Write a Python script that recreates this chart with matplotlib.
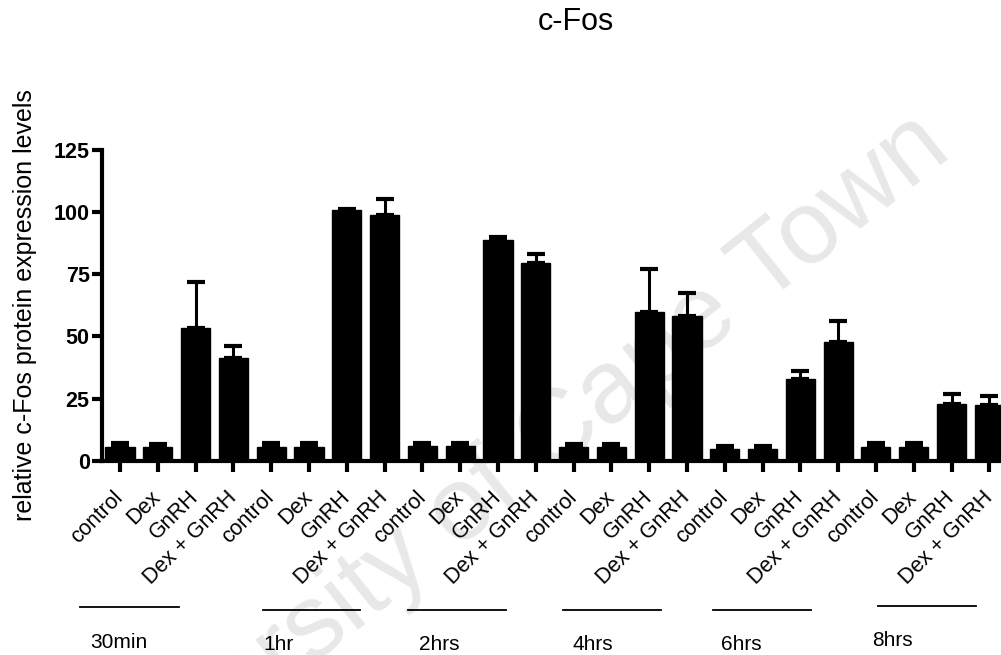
import matplotlib
matplotlib.use("Agg")
import matplotlib.pyplot as plt
import matplotlib.transforms as mtransforms
import numpy as np

plt.rcParams['font.family'] = ['Liberation Sans', 'DejaVu Sans']

treatments = ["control", "Dex", "GnRH", "Dex + GnRH"]
timepoints = ["30min", "1hr", "2hrs", "4hrs", "6hrs", "8hrs"]

mean_30min = [5.7, 5.5, 53.3, 41.5]
mean_1hr = [5.7, 5.7, 100.6, 98.8]
mean_2hrs = [6.0, 6.0, 88.5, 79.6]
mean_4hrs = [5.5, 5.5, 59.8, 58.2]
mean_6hrs = [4.9, 4.9, 32.9, 47.8]
mean_8hrs = [5.7, 5.7, 22.9, 22.4]

err_30min = [1.4, 1.2, 18.5, 4.8]
err_1hr = [1.6, 1.6, 0.4, 6.4]
err_2hrs = [1.3, 1.3, 1.2, 3.4]
err_4hrs = [1.2, 1.2, 17.2, 9.1]
err_6hrs = [1.2, 1.2, 3.4, 8.4]
err_8hrs = [1.4, 1.4, 4.1, 3.8]

# group separator lines (in bar-index units) and label positions
group_line_start = [-1.06, 3.77, 7.63, 11.72, 15.69, 20.05]
group_line_end = [1.55, 6.35, 10.21, 14.31, 18.27, 22.65]
group_label_x = [-0.79, 3.80, 7.92, 11.96, 15.90, 19.89]
group_line_y = [607, 610, 610, 610, 610, 606]
group_label_y = [642, 644, 645, 644, 645, 640]

means = mean_30min + mean_1hr + mean_2hrs + mean_4hrs + mean_6hrs + mean_8hrs
errs = err_30min + err_1hr + err_2hrs + err_4hrs + err_6hrs + err_8hrs
labels = treatments * len(timepoints)
x = np.arange(len(means))

W, H = 1001, 655
fig = plt.figure(figsize=(W / 100, H / 100), dpi=100)

ax_left = 101.5 / W
ax_bottom = (H - 461) / H
ax_top = (H - 149.5) / H
ax_right = 1012 / W
ax = fig.add_axes([ax_left, ax_bottom, ax_right - ax_left, ax_top - ax_bottom])
ax.patch.set_alpha(0)

ax.bar(x, means, width=0.77, color='black', edgecolor='black', zorder=3)
ax.errorbar(x, means, yerr=[np.zeros(len(errs)), errs], fmt='none',
            ecolor='black', elinewidth=2.2, capsize=6.5, capthick=3, zorder=2)

ax.set_xlim(-0.49, 23.6)
ax.set_ylim(0, 125)
ax.set_yticks([0, 25, 50, 75, 100, 125])
ax.set_xticks(x)
ax.set_xticklabels(labels, rotation=45, ha='right', va='center',
                   rotation_mode='anchor', fontsize=15.5)
ax.tick_params(axis='x', length=8, width=3, pad=16)
ax.tick_params(axis='y', length=7.5, width=3, pad=1, labelsize=15.5)
for lab in ax.get_yticklabels():
    lab.set_fontweight('bold')

for s in ['top', 'right']:
    ax.spines[s].set_visible(False)
for s in ['left', 'bottom']:
    ax.spines[s].set_linewidth(3)

ax.set_ylabel("relative c-Fos protein expression levels", fontsize=18, labelpad=12)

fig.text(575.5 / W, 1 - 22 / H, "c-Fos", ha='center', va='center', fontsize=22)

trans = mtransforms.blended_transform_factory(ax.transData, fig.transFigure)
for xs, xe, xl, ly, ty, name in zip(group_line_start, group_line_end, group_label_x,
                                     group_line_y, group_label_y, timepoints):
    ax.plot([xs, xe], [1 - ly / H, 1 - ly / H], color='black', lw=1.3,
            transform=trans, clip_on=False)
    ax.text(xl, 1 - ty / H, name, transform=trans, ha='left', va='center',
            fontsize=15)

# watermark
fig.text(954 / W, 1 - 155 / H, "University of Cape Town", rotation=38.5,
         ha='right', va='baseline', fontsize=75, color='#e8e8e8', zorder=-5,
         rotation_mode='anchor')

fig.savefig("out.png", dpi=100)
